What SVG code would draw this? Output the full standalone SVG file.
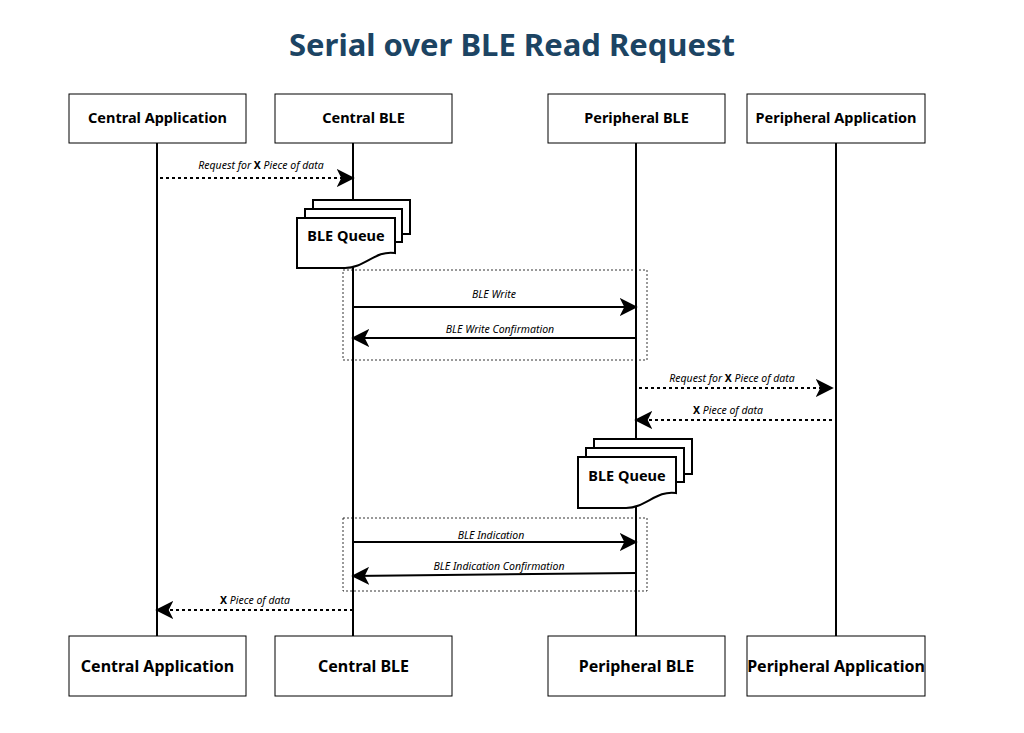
<svg xmlns="http://www.w3.org/2000/svg" width="1024" height="733" viewBox="0 0 1024 733">
<style>
.box{fill:#fff;stroke:#000;stroke-width:1}
.bt{font-family:"Noto Sans",sans-serif;font-weight:bold;font-size:14.5px;text-anchor:middle}
.bt2{font-family:"Noto Sans",sans-serif;font-weight:bold;font-size:16px;text-anchor:middle}
.life{stroke:#000;stroke-width:2}
.msg{stroke:#000;stroke-width:2;fill:none}
.dash{stroke-dasharray:3,3}
.lbl{font-family:"Noto Sans",sans-serif;font-style:italic;font-size:10.5px;text-anchor:middle}
.x{font-style:normal;font-weight:bold}
.doc{fill:#fff;stroke:#000;stroke-width:2}
.frame{fill:none;stroke:#000;stroke-width:0.8;stroke-dasharray:2,2}
</style>
<defs>
<marker id="ah" viewBox="0 0 20 20" refX="18" refY="10" markerWidth="10" markerHeight="10" markerUnits="userSpaceOnUse" orient="auto">
<path d="M0,0 L20,10 L0,20 L5,10 Z" fill="#000"/>
</marker>
<marker id="ah2" viewBox="0 0 20 20" refX="18" refY="10" markerWidth="18" markerHeight="18" markerUnits="userSpaceOnUse" orient="auto">
<path d="M0,0 L20,10 L0,20 L5,10 Z" fill="#000"/>
</marker>
</defs>
<rect width="1024" height="733" fill="#fff"/>
<text x="512" y="56" font-family="Noto Sans,sans-serif" font-weight="bold" font-size="31" fill="#1c4463" text-anchor="middle">Serial over BLE Read Request</text>

<g id="lifelines">
<line class="life" x1="157" y1="143" x2="157" y2="636"/>
<line class="life" x1="353" y1="143" x2="353" y2="636"/>
<line class="life" x1="636" y1="143" x2="636" y2="636"/>
<line class="life" x1="836" y1="143" x2="836" y2="636"/>
</g>

<g id="frames">
<rect class="frame" x="343" y="270" width="304" height="90"/>
<rect class="frame" x="343" y="518" width="304" height="73"/>
</g>

<g id="ca-top"><rect class="box" x="69" y="94" width="177" height="49"/><text class="bt" x="157.5" y="123">Central Application</text></g>
<g id="cb-top"><rect class="box" x="275" y="94" width="177" height="49"/><text class="bt" x="363.5" y="123">Central BLE</text></g>
<g id="pb-top"><rect class="box" x="548" y="94" width="177" height="49"/><text class="bt" x="636.5" y="123">Peripheral BLE</text></g>
<g id="pa-top"><rect class="box" x="747" y="94" width="178" height="49"/><text class="bt" x="836" y="123">Peripheral Application</text></g>
<g id="ca-bot"><rect class="box" x="69" y="636" width="177" height="60"/><text class="bt2" x="157.5" y="672">Central Application</text></g>
<g id="cb-bot"><rect class="box" x="275" y="636" width="177" height="60"/><text class="bt2" x="363.5" y="672">Central BLE</text></g>
<g id="pb-bot"><rect class="box" x="548" y="636" width="177" height="60"/><text class="bt2" x="636.5" y="672">Peripheral BLE</text></g>
<g id="pa-bot"><rect class="box" x="747" y="636" width="178" height="60"/><text class="bt2" x="836" y="672">Peripheral Application</text></g>

<g id="queue1">
<path class="doc" d="M313,200 H410 V234 H313 Z"/>
<path class="doc" d="M305,209 H402 V242 H305 Z"/>
<path class="doc" d="M297,218 H395 V253 C375,250 365,268 345,268 H297 Z"/>
<text class="bt" x="346" y="241" font-size="13">BLE Queue</text>
</g>
<g id="queue2">
<path class="doc" d="M594,439 H692 V474 H594 Z"/>
<path class="doc" d="M586,448 H684 V482 H586 Z"/>
<path class="doc" d="M578,457 H676 V493 C656,490 646,508 626,508 H578 Z"/>
<text class="bt" x="627" y="481" font-size="13">BLE Queue</text>
</g>

<g id="connectors">
<line class="msg dash" x1="160" y1="178" x2="353" y2="178" marker-end="url(#ah2)"/>
<text class="lbl" x="261" y="169">Request for <tspan class="x">X</tspan> Piece of data</text>
<line class="msg" x1="353" y1="307" x2="636" y2="307" marker-end="url(#ah2)"/>
<text class="lbl" x="494" y="298">BLE Write</text>
<line class="msg" x1="636" y1="338" x2="353" y2="338" marker-end="url(#ah2)"/>
<text class="lbl" x="500" y="333">BLE Write Confirmation</text>
<line class="msg dash" x1="639" y1="388" x2="832" y2="388" marker-end="url(#ah2)"/>
<text class="lbl" x="732" y="382">Request for <tspan class="x">X</tspan> Piece of data</text>
<line class="msg dash" x1="832" y1="420" x2="636" y2="420" marker-end="url(#ah2)"/>
<text class="lbl" x="728" y="414"><tspan class="x">X</tspan> Piece of data</text>
<line class="msg" x1="353" y1="542" x2="636" y2="542" marker-end="url(#ah2)"/>
<text class="lbl" x="491" y="539">BLE Indication</text>
<line class="msg" x1="636" y1="573" x2="353" y2="576" marker-end="url(#ah2)"/>
<text class="lbl" x="499" y="570">BLE Indication Confirmation</text>
<line class="msg dash" x1="353" y1="610" x2="157" y2="610" marker-end="url(#ah2)"/>
<text class="lbl" x="255" y="604"><tspan class="x">X</tspan> Piece of data</text>
</g>
</svg>
